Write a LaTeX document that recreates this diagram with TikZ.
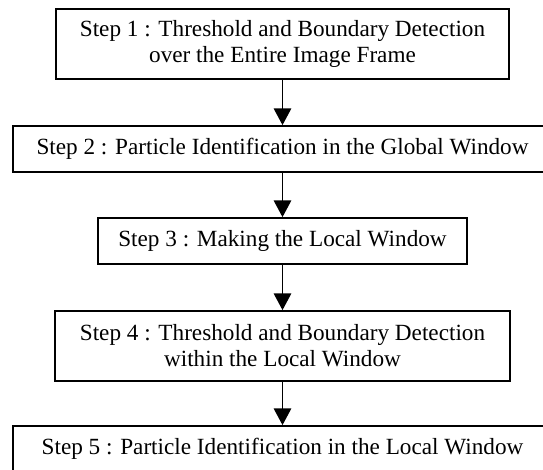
\documentclass[tikz,border=0pt]{standalone}
\usepackage{fontspec}
\setmainfont{Liberation Serif}
\usetikzlibrary{arrows.meta}

\begin{document}
\begin{tikzpicture}[x=0.75pt,y=0.75pt,yscale=-1,xscale=1,
		stepbox/.style={draw, line width=1.3pt, align=center, inner sep=0pt,
			font=\fontsize{17.4}{19.5}\selectfont},
		flowarrow/.style={line width=1.3pt, -{Triangle[length=12.5pt,width=13pt]}}]
	%set diagram size: 543 x 469
	\clip (0,0) rectangle (543,469);
	
	% Text Node
	\node [stepbox, minimum width=339.75pt, minimum height=52.5pt] (step1) at (282.5,44) {Step 1 : Threshold and Boundary Detection\\over the Entire Image Frame};
	% Text Node
	\node [stepbox, minimum width=404.25pt, minimum height=34.5pt] (step2) at (282.5,149) {Step 2 : Particle Identification in the Global Window};
	% Text Node
	\node [stepbox, minimum width=276.75pt, minimum height=34.5pt] (step3) at (282.5,241) {Step 3 : Making the Local Window};
	% Text Node
	\node [stepbox, minimum width=341.25pt, minimum height=52.5pt] (step4) at (282.5,346) {Step 4 : Threshold and Boundary Detection\\within the Local Window};
	% Text Node
	\node [stepbox, minimum width=404.25pt, minimum height=34.5pt] (step5) at (282.5,449) {Step 5 : Particle Identification in the Local Window};
	
	%Straight Lines
	\draw [flowarrow] (step1) -- (step2);
	\draw [flowarrow] (step2) -- (step3);
	\draw [flowarrow] (step3) -- (step4);
	\draw [flowarrow] (step4) -- (step5);
	
\end{tikzpicture}
\end{document}
